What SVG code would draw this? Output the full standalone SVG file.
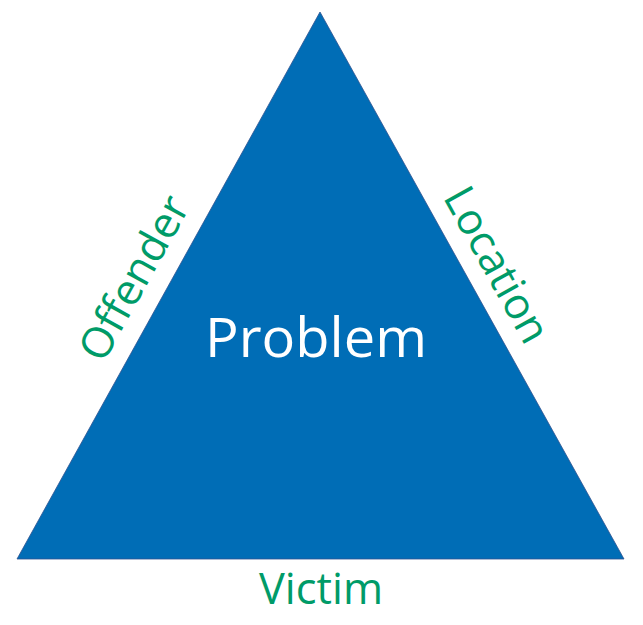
<svg xmlns="http://www.w3.org/2000/svg" width="643" height="625" viewBox="0 0 643 625">
<style>
.lbl{font-family:"Open Sans","Liberation Sans",sans-serif;fill:#009B68;font-size:43px;text-anchor:middle}
.main{font-family:"Open Sans","Liberation Sans",sans-serif;fill:#ffffff;font-size:54px;text-anchor:middle}
</style>
<rect width="643" height="625" fill="#ffffff"/>
<g id="triangle">
<polygon points="320,12 17,559 624,559" fill="#006DB6" stroke="#2F528F" stroke-width="0.8"/>
<text class="main" x="316" y="357" textLength="222" lengthAdjust="spacingAndGlyphs">Problem</text>
</g>
<g id="offender">
<text class="lbl" x="147" y="285" transform="rotate(-61 147 285)">Offender</text>
</g>
<g id="location">
<text class="lbl" x="484" y="272" transform="rotate(61 484 272)">Location</text>
</g>
<g id="victim">
<text class="lbl" x="321" y="604" textLength="124" lengthAdjust="spacingAndGlyphs">Victim</text>
</g>
<g id="connectors"></g>
</svg>
